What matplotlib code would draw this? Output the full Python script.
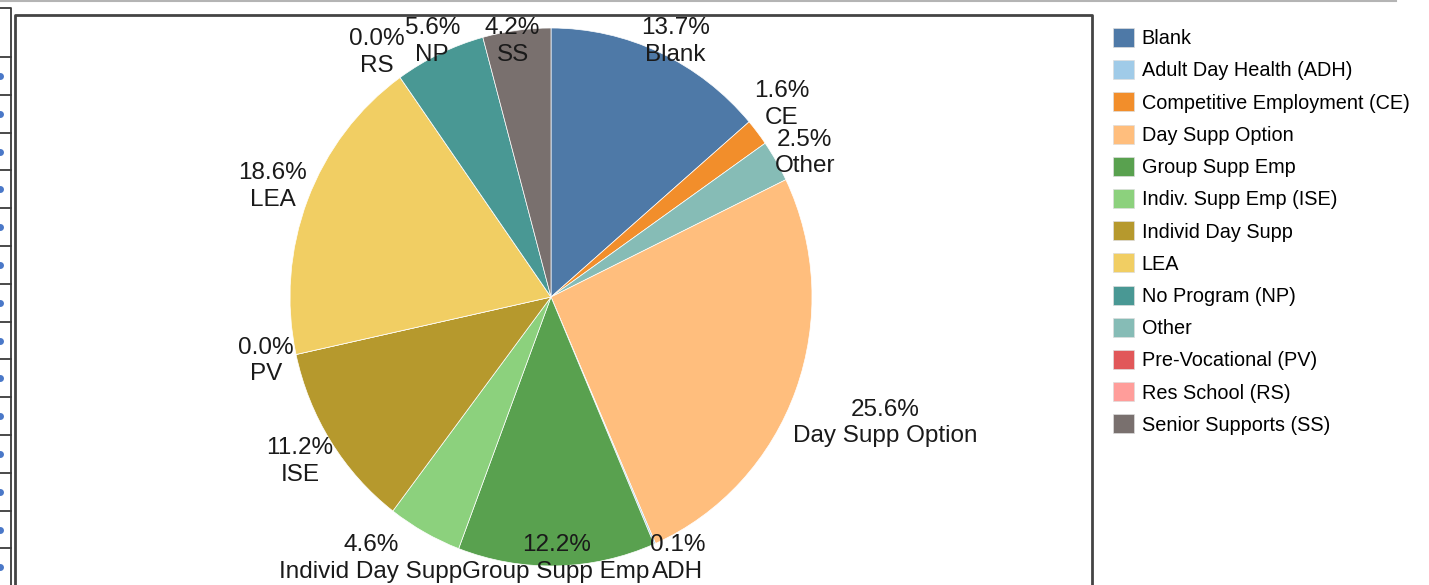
import numpy as np
import matplotlib
matplotlib.use("Agg")
import matplotlib.pyplot as plt
from matplotlib.lines import Line2D
from matplotlib.transforms import IdentityTransform

plt.rcParams['font.family'] = ['Liberation Sans', 'DejaVu Sans']

# slices, clockwise from 12 o'clock
slice_names = ["Blank", "Competitive Employment (CE)", "Other", "Day Supp Option",
               "Adult Day Health (ADH)", "Group Supp Emp", "Indiv. Supp Emp (ISE)",
               "Individ Day Supp", "Pre-Vocational (PV)", "LEA", "Res School (RS)",
               "No Program (NP)", "Senior Supports (SS)"]
pct = [13.7, 1.6, 2.5, 25.6, 0.1, 12.2, 4.6, 11.2, 0.0, 18.6, 0.0, 5.6, 4.2]
slice_labels = ["Blank", "CE", "Other", "Day Supp Option", "ADH", "Group Supp Emp",
                "Individ Day Supp", "ISE", "PV", "LEA", "RS", "NP", "SS"]

# legend order
legend_names = ["Blank", "Adult Day Health (ADH)", "Competitive Employment (CE)",
                "Day Supp Option", "Group Supp Emp", "Indiv. Supp Emp (ISE)",
                "Individ Day Supp", "LEA", "No Program (NP)", "Other",
                "Pre-Vocational (PV)", "Res School (RS)", "Senior Supports (SS)"]
legend_colors = ["#4e79a7", "#a0cbe8", "#f28e2b", "#ffbe7d", "#59a14f", "#8cd17d",
                 "#b6992d", "#f1ce63", "#499894", "#86bcb6", "#e15759", "#ff9d9a",
                 "#79706e"]
color_of = dict(zip(legend_names, legend_colors))

W, H = 1429, 585
fig = plt.figure(figsize=(W / 100, H / 100), dpi=100)
fig.patch.set_facecolor("white")

def fx(x):
    return x / W

def fy(y):
    return 1 - y / H

# page furniture: top rule, cut-off table on the left, chart frame
fig.add_artist(Line2D([fx(0), fx(1396)], [fy(1), fy(1)], color="#b4b4b4", lw=1.5))
fig.add_artist(Line2D([fx(0), fx(10.5), fx(10.5)], [fy(8), fy(8), fy(H)], color="#3a3a3a", lw=1.3))
for k in range(14):
    yy = 57 + 37.8 * k
    fig.add_artist(Line2D([fx(0), fx(10.5)], [fy(yy), fy(yy)], color="#3a3a3a", lw=1.3))
    fig.add_artist(Line2D([fx(0)], [fy(yy + 19)], marker="o", ms=5, color="#4a78c8", mec="none"))
fig.add_artist(Line2D([fx(15), fx(15), fx(1092), fx(1092)], [fy(H), fy(15), fy(15), fy(H)],
                      color="#444444", lw=2))

# pie geometry (screen pixels)
cx, cy, rx, ry = 551, 297, 261, 269
ax = fig.add_axes([fx(cx - rx), fy(cy + ry), 2 * rx / W, 2 * ry / H])
wedges, _ = ax.pie(pct, colors=[color_of[n] for n in slice_names], startangle=90,
                   counterclock=False, radius=1,
                   wedgeprops=dict(edgecolor="white", linewidth=0.5))
ax.set_aspect("auto")
ax.set_xlim(-1, 1)
ax.set_ylim(-1, 1)
ax.axis("off")

# labels outside the pie: centre on the mid-angle ray, half a label width
# beyond the rim, then kept inside the chart frame
fig.canvas.draw()
renderer = fig.canvas.get_renderer()
total = sum(pct)
cum = np.cumsum([0] + pct[:-1])
top_lim, bot_lim = H - 17, 2
texts, boxes = [], []
for v, c, lab in zip(pct, cum, slice_labels):
    th = np.deg2rad(90 - 360 * (c + v / 2) / total)
    t = fig.text(0, 0, f"{v:.1f}%\n{lab}", transform=IdentityTransform(),
                 ha="center", va="center", multialignment="center",
                 fontsize=17.5, color="#1a1a1a", linespacing=1.27)
    bb = t.get_window_extent(renderer)
    w, h = bb.width, bb.height
    px = cx + (rx + w / 2 + 3) * np.cos(th)
    py = (H - cy) + (ry + w / 2 + 3) * np.sin(th)
    py = min(max(py, bot_lim + h / 2), top_lim - h / 2)
    texts.append(t)
    boxes.append([px, py, w, h])

# push overlapping labels apart along the axis with the smaller overlap
for _ in range(6):
    for i in range(len(boxes)):
        for j in range(i + 1, len(boxes)):
            a, b = boxes[i], boxes[j]
            ox = (a[2] + b[2]) / 2 - abs(a[0] - b[0])
            oy = (a[3] + b[3]) / 2 - abs(a[1] - b[1])
            if ox <= 0 or oy <= 0:
                continue
            if ox < oy:
                s = 1 if a[0] >= b[0] else -1
                a[0] += s * ox / 2
                b[0] -= s * ox / 2
            else:
                s = 1 if a[1] >= b[1] else -1
                a[1] += s * oy / 2
                b[1] -= s * oy / 2
            for bx in (a, b):
                bx[1] = min(max(bx[1], bot_lim + bx[3] / 2), top_lim - bx[3] / 2)

for t, bx in zip(texts, boxes):
    t.set_position((bx[0], bx[1]))

fig.legend(handles=[plt.Rectangle((0, 0), 1, 1, fc=c, ec="#dddddd", lw=0.5) for c in legend_colors],
           labels=legend_names, loc="upper left",
           bbox_to_anchor=(fx(1113), fy(28)), frameon=False, fontsize=14.3,
           handlelength=1.05, handleheight=1.1, handletextpad=0.4,
           labelspacing=0.6, borderpad=0, borderaxespad=0)

fig.savefig("out.png", dpi=100)
